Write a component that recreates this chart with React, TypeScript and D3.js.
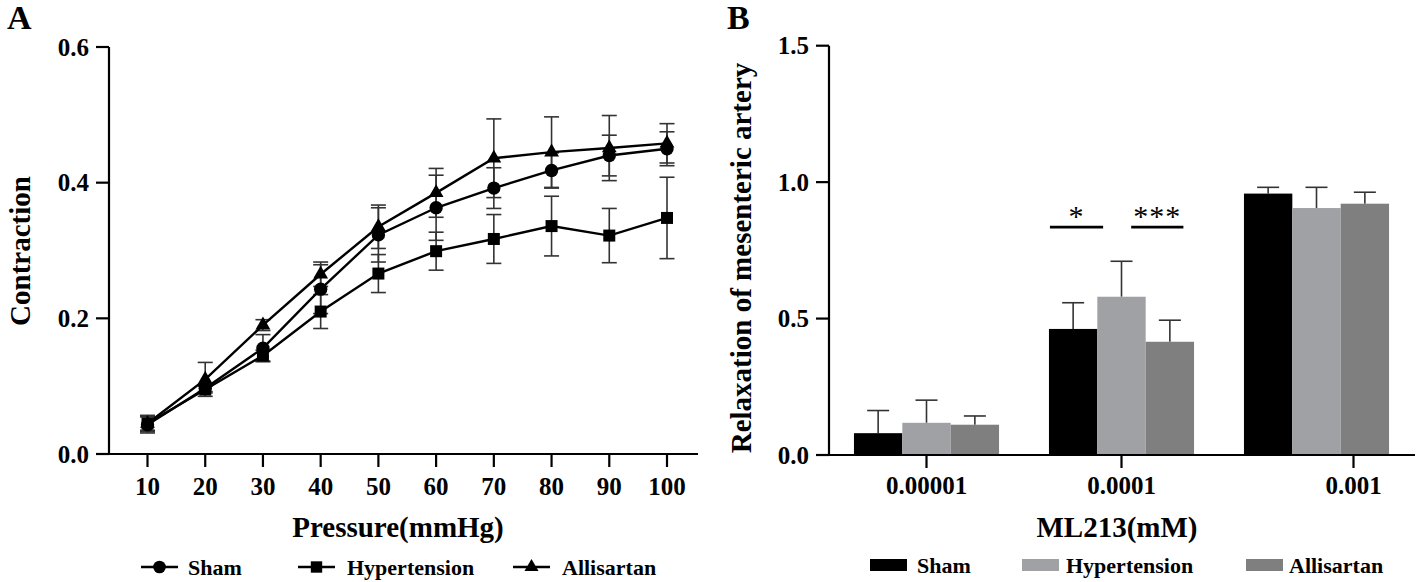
import React, { useRef, useEffect } from "react";
import * as d3 from "d3";

// Panel A: contraction vs pressure
const pressures = [10, 20, 30, 40, 50, 60, 70, 80, 90, 100];
const shamMean = [0.043, 0.097, 0.156, 0.243, 0.323, 0.363, 0.392, 0.418, 0.44, 0.45];
const shamErr = [0.012, 0.005, 0.02, 0.036, 0.04, 0.048, 0.03, 0.026, 0.03, 0.025];
const hyperMean = [0.045, 0.095, 0.145, 0.21, 0.266, 0.299, 0.317, 0.336, 0.322, 0.348];
const hyperErr = [0.01, 0.005, 0.008, 0.025, 0.028, 0.028, 0.036, 0.044, 0.04, 0.06];
const alliMean = [0.045, 0.11, 0.19, 0.265, 0.335, 0.385, 0.436, 0.445, 0.451, 0.458];
const alliErr = [0.012, 0.025, 0.008, 0.018, 0.032, 0.036, 0.058, 0.052, 0.048, 0.029];
const contractionTicks = [0, 0.2, 0.4, 0.6];

// Panel B: relaxation vs ML213
const concentrations = ["0.00001", "0.0001", "0.001"];
const groups = ["Sham", "Hypertension", "Allisartan"];
const shamRelax = [0.08, 0.462, 0.958];
const shamRelaxErr = [0.083, 0.096, 0.023];
const hyperRelax = [0.118, 0.58, 0.905];
const hyperRelaxErr = [0.083, 0.13, 0.076];
const alliRelax = [0.111, 0.415, 0.921];
const alliRelaxErr = [0.032, 0.079, 0.042];
const relaxTicks = [0, 0.5, 1.0, 1.5];

const FONT = "'Liberation Serif', 'Times New Roman', serif";

const App = () => {
  const ref = useRef(null);

  useEffect(() => {
    const svg = d3.select(ref.current);
    svg.selectAll("*").remove();
    svg.attr("font-family", FONT).attr("font-weight", "bold");

    // ---------- Panel A ----------
    const xA = d3.scaleLinear().domain([10, 100]).range([147.5, 667]);
    const yA = d3.scaleLinear().domain([0, 0.6]).range([454, 47]);
    const axisX0 = 109;

    svg.append("text").attr("x", 7).attr("y", 29).attr("font-size", 34).text("A");

    const gA = svg.append("g");
    // y axis
    gA.append("line").attr("x1", axisX0).attr("x2", axisX0)
      .attr("y1", yA(0.6)).attr("y2", yA(0)).attr("stroke", "#000").attr("stroke-width", 2.2);
    contractionTicks.forEach((t) => {
      gA.append("line").attr("x1", axisX0 - 13).attr("x2", axisX0)
        .attr("y1", yA(t)).attr("y2", yA(t)).attr("stroke", "#000").attr("stroke-width", 2.2);
      gA.append("text").attr("x", axisX0 - 20).attr("y", yA(t)).attr("dy", "0.35em")
        .attr("text-anchor", "end").attr("font-size", 25).text(t.toFixed(1));
    });
    // x axis
    gA.append("line").attr("x1", axisX0 - 13).attr("x2", 698)
      .attr("y1", yA(0)).attr("y2", yA(0)).attr("stroke", "#000").attr("stroke-width", 2.2);
    pressures.forEach((p) => {
      gA.append("line").attr("x1", xA(p)).attr("x2", xA(p))
        .attr("y1", yA(0)).attr("y2", yA(0) + 13).attr("stroke", "#000").attr("stroke-width", 2.2);
      gA.append("text").attr("x", xA(p)).attr("y", 495)
        .attr("text-anchor", "middle").attr("font-size", 25).text(p);
    });
    gA.append("text").attr("x", 398).attr("y", 537).attr("text-anchor", "middle")
      .attr("font-size", 29).text("Pressure(mmHg)");
    gA.append("text").attr("transform", `translate(30,251) rotate(-90)`)
      .attr("text-anchor", "middle").attr("font-size", 29).text("Contraction");

    const seriesA = [
      { name: "Sham", mean: shamMean, err: shamErr, symbol: d3.symbolCircle, size: 140 },
      { name: "Hypertension", mean: hyperMean, err: hyperErr, symbol: d3.symbolSquare, size: 144 },
      { name: "Allisartan", mean: alliMean, err: alliErr, symbol: d3.symbolTriangle, size: 95 },
    ];

    seriesA.forEach((s) => {
      const g = gA.append("g");
      pressures.forEach((p, i) => {
        const x = xA(p);
        const hi = yA(s.mean[i] + s.err[i]);
        const lo = yA(s.mean[i] - s.err[i]);
        g.append("line").attr("x1", x).attr("x2", x).attr("y1", hi).attr("y2", lo)
          .attr("stroke", "#333").attr("stroke-width", 1.6);
        [hi, lo].forEach((yy) =>
          g.append("line").attr("x1", x - 7.5).attr("x2", x + 7.5).attr("y1", yy).attr("y2", yy)
            .attr("stroke", "#333").attr("stroke-width", 1.6));
      });
    });
    seriesA.forEach((s) => {
      const line = d3.line<number>().x((_, i) => xA(pressures[i])).y((d) => yA(d));
      gA.append("path").attr("d", line(s.mean)).attr("fill", "none")
        .attr("stroke", "#000").attr("stroke-width", 2.4);
      gA.selectAll(null).data(s.mean).enter().append("path")
        .attr("d", d3.symbol().type(s.symbol).size(s.size)())
        .attr("transform", (d, i) => `translate(${xA(pressures[i])},${yA(d)})`)
        .attr("fill", "#000");
    });

    // legend A
    const legA = [
      { x: 141, tx: 188 },
      { x: 298, tx: 347 },
      { x: 513, tx: 562 },
    ];
    seriesA.forEach((s, i) => {
      const ly = 567;
      gA.append("line").attr("x1", legA[i].x).attr("x2", legA[i].x + 37)
        .attr("y1", ly).attr("y2", ly).attr("stroke", "#000").attr("stroke-width", 2.4);
      gA.append("path").attr("d", d3.symbol().type(s.symbol).size(s.size * 0.9)())
        .attr("transform", `translate(${legA[i].x + 18.5},${ly})`).attr("fill", "#000");
      gA.append("text").attr("x", legA[i].tx).attr("y", 575).attr("font-size", 22).text(s.name);
    });

    // ---------- Panel B ----------
    const yB = d3.scaleLinear().domain([0, 1.5]).range([455, 45.7]);
    const axisXB = 829;
    const x0 = d3.scaleBand().domain(concentrations).range([829, 1414])
      .paddingInner(0.256).paddingOuter(0.128);
    const x1 = d3.scaleBand().domain(groups).range([0, x0.bandwidth()]);
    const colors = d3.scaleOrdinal<string>().domain(groups).range(["#000000", "#a0a1a4", "#7e7f7e"]);
    const tickOffsets = [0, 0, 37];

    svg.append("text").attr("x", 727).attr("y", 29).attr("font-size", 34).text("B");

    const gB = svg.append("g");
    const valuesB = [
      { mean: shamRelax, err: shamRelaxErr },
      { mean: hyperRelax, err: hyperRelaxErr },
      { mean: alliRelax, err: alliRelaxErr },
    ];
    concentrations.forEach((c, ci) => {
      groups.forEach((gname, gi) => {
        const v = valuesB[gi].mean[ci];
        const e = valuesB[gi].err[ci];
        const bx = x0(c) + x1(gname);
        const cx = bx + x1.bandwidth() / 2;
        gB.append("line").attr("x1", cx).attr("x2", cx).attr("y1", yB(v)).attr("y2", yB(v + e))
          .attr("stroke", "#333").attr("stroke-width", 1.6);
        gB.append("line").attr("x1", cx - 11).attr("x2", cx + 11).attr("y1", yB(v + e)).attr("y2", yB(v + e))
          .attr("stroke", "#333").attr("stroke-width", 1.6);
        gB.append("rect").attr("x", bx).attr("y", yB(v)).attr("width", x1.bandwidth())
          .attr("height", yB(0) - yB(v)).attr("fill", colors(gname));
      });
    });

    // axes B
    gB.append("line").attr("x1", axisXB).attr("x2", axisXB)
      .attr("y1", yB(1.5)).attr("y2", yB(0)).attr("stroke", "#000").attr("stroke-width", 2.2);
    relaxTicks.forEach((t) => {
      gB.append("line").attr("x1", axisXB - 13).attr("x2", axisXB)
        .attr("y1", yB(t)).attr("y2", yB(t)).attr("stroke", "#000").attr("stroke-width", 2.2);
      gB.append("text").attr("x", axisXB - 20).attr("y", yB(t)).attr("dy", "0.35em")
        .attr("text-anchor", "end").attr("font-size", 25).text(t.toFixed(1));
    });
    gB.append("line").attr("x1", axisXB - 13).attr("x2", 1415)
      .attr("y1", yB(0)).attr("y2", yB(0)).attr("stroke", "#000").attr("stroke-width", 2.2);
    concentrations.forEach((c, i) => {
      const tx = x0(c) + x0.bandwidth() / 2 + tickOffsets[i];
      gB.append("line").attr("x1", tx).attr("x2", tx)
        .attr("y1", yB(0)).attr("y2", yB(0) + 13).attr("stroke", "#000").attr("stroke-width", 2.2);
      gB.append("text").attr("x", tx).attr("y", 494)
        .attr("text-anchor", "middle").attr("font-size", 25).text(c);
    });
    gB.append("text").attr("x", 1117).attr("y", 537).attr("text-anchor", "middle")
      .attr("font-size", 29).text("ML213(mM)");
    gB.append("text").attr("transform", `translate(751,258) rotate(-90)`)
      .attr("text-anchor", "middle").attr("font-size", 29).text("Relaxation of mesenteric artery");

    // significance marks
    const c2 = concentrations[1];
    const bw = x1.bandwidth();
    const sig = [
      { a: "Sham", fa: 0.02, b: "Hypertension", fb: 0.12, label: "*" },
      { a: "Hypertension", fa: 0.7, b: "Allisartan", fb: 0.78, label: "***" },
    ];
    sig.forEach((s) => {
      const xa = x0(c2) + x1(s.a) + bw * s.fa;
      const xb = x0(c2) + x1(s.b) + bw * s.fb;
      const ly = yB(0.835);
      gB.append("line").attr("x1", xa).attr("x2", xb).attr("y1", ly).attr("y2", ly)
        .attr("stroke", "#000").attr("stroke-width", 2.6);
      gB.append("text").attr("x", (xa + xb) / 2).attr("y", ly - 1).attr("text-anchor", "middle")
        .attr("font-size", 30).attr("font-weight", "normal").attr("letter-spacing", 1).text(s.label);
    });

    // legend B
    const legB = [
      { x: 870, tx: 917 },
      { x: 1022, tx: 1066 },
      { x: 1246, tx: 1289 },
    ];
    groups.forEach((gname, i) => {
      gB.append("rect").attr("x", legB[i].x).attr("y", 559).attr("width", 37).attr("height", 12)
        .attr("fill", colors(gname));
      gB.append("text").attr("x", legB[i].tx).attr("y", 573).attr("font-size", 22).text(gname);
    });
  }, []);

  return (
    <svg ref={ref} width={1418} height={582}
      style={{ position: "absolute", left: 0, top: 0, background: "#fff" }} />
  );
};

export default App;
